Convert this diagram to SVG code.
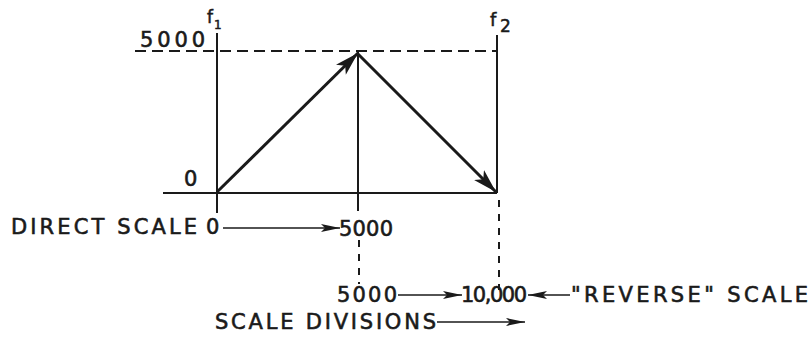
<svg xmlns="http://www.w3.org/2000/svg" width="810" height="339" viewBox="0 0 810 339">
  <style>
    .ln { stroke:#1a1a1a; stroke-width:2; fill:none; }
    .thin { stroke:#1a1a1a; stroke-width:1.3; fill:none; }
    .dash { stroke:#1a1a1a; stroke-width:2; fill:none; stroke-dasharray:11 6; }
    .vdash { stroke:#1a1a1a; stroke-width:2; fill:none; stroke-dasharray:7 7; }
    .vec { stroke:#1a1a1a; stroke-width:3; fill:none; }
    .t { font-family:"DejaVu Sans","Liberation Sans",sans-serif; font-size:21px; fill:#1a1a1a; stroke:#1a1a1a; stroke-width:0.6; }
    .s { font-family:"DejaVu Sans","Liberation Sans",sans-serif; fill:#1a1a1a; stroke:#1a1a1a; stroke-width:0.5; }
  </style>
  <defs>
    <marker id="big" markerUnits="userSpaceOnUse" markerWidth="26" markerHeight="16" refX="24" refY="8" orient="auto" viewBox="0 0 26 16">
      <path d="M0,1 L24,8 L0,15 L6,8 z" fill="#1a1a1a"/>
    </marker>
    <marker id="small" markerUnits="userSpaceOnUse" markerWidth="20" markerHeight="10" refX="19" refY="5" orient="auto" viewBox="0 0 20 10">
      <path d="M0,1 L19,5 L0,9 L4,5 z" fill="#1a1a1a"/>
    </marker>
  </defs>

  <g id="axes">
    <line class="ln" x1="163" y1="193" x2="497" y2="193"/>
    <line class="ln" x1="217" y1="33" x2="217" y2="213"/>
    <line class="ln" x1="358" y1="52" x2="358" y2="211"/>
    <line class="ln" x1="497" y1="35" x2="497" y2="193"/>
    <line class="dash" x1="135" y1="51" x2="497" y2="51"/>
    <line class="vdash" x1="359" y1="240" x2="359" y2="284"/>
    <line class="vdash" x1="499" y1="200" x2="499" y2="290"/>
  </g>

  <g id="connectors">
    <line class="vec" x1="217" y1="192" x2="358" y2="53" marker-end="url(#big)"/>
    <line class="vec" x1="357" y1="53" x2="496" y2="192" marker-end="url(#big)"/>
    <line class="thin" x1="223" y1="228" x2="340" y2="228" marker-end="url(#small)"/>
    <line class="thin" x1="398" y1="295" x2="462" y2="295" marker-end="url(#small)"/>
    <line class="thin" x1="570" y1="295" x2="528" y2="295" marker-end="url(#small)"/>
    <line class="thin" x1="437" y1="322" x2="525" y2="322" marker-end="url(#small)"/>
  </g>

  <g id="label-f1">
    <text class="s" x="207" y="23" font-size="17">f</text>
    <text class="s" x="214" y="29" font-size="12">1</text>
  </g>
  <g id="label-f2">
    <text class="s" x="490" y="26" font-size="18">f</text>
    <text class="s" x="500" y="32" font-size="17">2</text>
  </g>
  <g id="label-5000-top">
    <text class="t" x="140" y="47" textLength="65" lengthAdjust="spacing">5000</text>
  </g>
  <g id="label-0-top">
    <text class="t" x="184" y="186" font-size="19">0</text>
  </g>
  <g id="direct-scale">
    <text class="t" x="11" y="234" textLength="186" lengthAdjust="spacing">DIRECT SCALE</text>
    <text class="t" x="206" y="234" font-size="18">0</text>
    <text class="t" x="339" y="236" textLength="54" lengthAdjust="spacing">5000</text>
  </g>
  <g id="reverse-scale">
    <text class="t" x="337" y="302" textLength="60" lengthAdjust="spacing">5000</text>
    <text class="t" x="461" y="302" textLength="66" lengthAdjust="spacing">10,000</text>
    <text class="t" x="571" y="302" textLength="237" lengthAdjust="spacing">"REVERSE" SCALE</text>
  </g>
  <g id="scale-divisions">
    <text class="t" x="215" y="329" textLength="221" lengthAdjust="spacing">SCALE DIVISIONS</text>
  </g>
</svg>
